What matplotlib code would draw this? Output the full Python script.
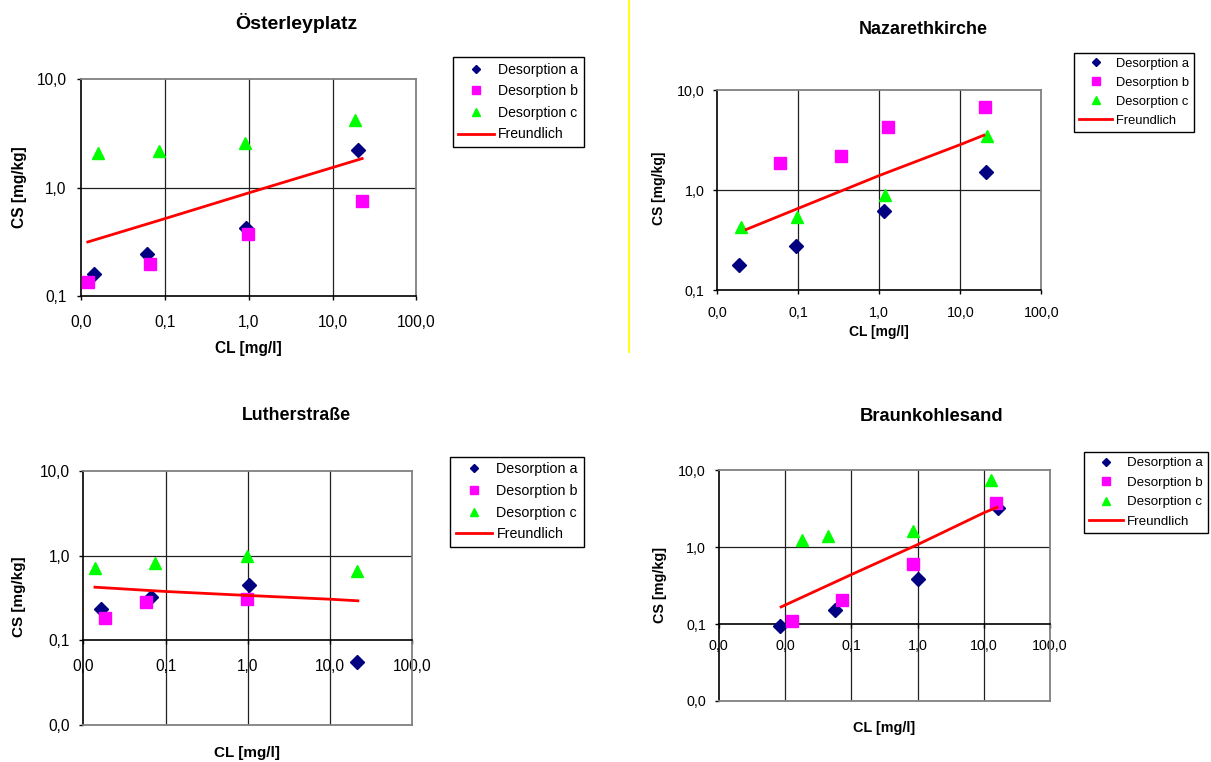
#!/usr/bin/env python3
"""
Desorption isotherms (CS vs CL, log-log) for four sites, with Freundlich fit
"""

import matplotlib.pyplot as plt
from matplotlib.lines import Line2D

plt.rcParams['font.family'] = ['Liberation Sans', 'DejaVu Sans']

# --- Österleyplatz ---
oest_a_x = [0.0143, 0.061, 0.93, 20.3]
oest_a_y = [0.161, 0.246, 0.42, 2.24]
oest_b_x = [0.012, 0.0667, 0.97, 22.2]
oest_b_y = [0.135, 0.196, 0.371, 0.748]
oest_c_x = [0.0158, 0.0855, 0.90, 18.6]
oest_c_y = [2.06, 2.18, 2.58, 4.19]
oest_fr_x = [0.012, 0.1, 1.0, 10.0, 22.5]
oest_fr_y = [0.315, 0.517, 0.893, 1.53, 1.85]

# --- Nazarethkirche ---
naz_a_x = [0.0186, 0.0955, 1.14, 21.0]
naz_a_y = [0.18, 0.275, 0.617, 1.51]
naz_b_x = [0.0597, 0.341, 1.3, 20.3]
naz_b_y = [1.89, 2.19, 4.27, 6.81]
naz_c_x = [0.0198, 0.096, 1.19, 21.4]
naz_c_y = [0.427, 0.541, 0.885, 3.47]
naz_fr_x = [0.023, 0.1, 1.0, 10.0, 19.5]
naz_fr_y = [0.404, 0.656, 1.40, 2.86, 3.55]

# --- Lutherstraße ---
luth_a_x = [0.0164, 0.0657, 1.04, 21.0]
luth_a_y = [0.236, 0.33, 0.454, 0.0563]
luth_b_x = [0.0182, 0.0569, 0.968]
luth_b_y = [0.183, 0.283, 0.313]
luth_c_x = [0.0139, 0.0741, 0.98, 21.0]
luth_c_y = [0.728, 0.819, 1.0, 0.671]
luth_fr_x = [0.0138, 0.1, 1.0, 10.0, 21.7]
luth_fr_y = [0.426, 0.379, 0.34, 0.307, 0.294]

# --- Braunkohlesand ---
braun_a_x = [0.0084, 0.0574, 1.03, 16.4]
braun_a_y = [0.095, 0.153, 0.388, 3.18]
braun_b_x = [0.0128, 0.0733, 0.865, 15.2]
braun_b_y = [0.108, 0.206, 0.61, 3.77]
braun_c_x = [0.0181, 0.0444, 0.865, 13.0]
braun_c_y = [1.22, 1.41, 1.64, 7.41]
braun_fr_x = [0.0087, 0.1, 1.0, 10.0, 15.8]
braun_fr_y = [0.167, 0.44, 1.08, 2.8, 3.3]

# axis ticks / labels
x_ticks_a = [0.01, 0.1, 1, 10, 100]
x_labels_a = ['0,0', '0,1', '1,0', '10,0', '100,0']
x_ticks_b = [0.001, 0.01, 0.1, 1, 10, 100]
x_labels_b = ['0,0', '0,0', '0,1', '1,0', '10,0', '100,0']
y_ticks_a = [0.1, 1, 10]
y_labels_a = ['0,1', '1,0', '10,0']
y_ticks_b = [0.01, 0.1, 1, 10]
y_labels_b = ['0,0', '0,1', '1,0', '10,0']

series_names = ['Desorption a', 'Desorption b', 'Desorption c', 'Freundlich']
titles = ['Österleyplatz', 'Nazarethkirche', 'Lutherstraße', 'Braunkohlesand']

NAVY = '#000080'
MAGENTA = '#FF00FF'
LIME = '#00FF00'
RED = '#FF0000'
BORDER = '#808080'
GRID = '#202020'


def draw_panel(ax, title, data, xticks, xlabels, yticks, ylabels, lay):
    """One Excel-style log-log scatter chart"""
    (ax_, ay_, bx_, by_, cx_, cy_, fx_, fy_) = data

    ax.set_xscale('log')
    ax.set_yscale('log')
    ax.set_xlim(xticks[0], xticks[-1])
    ax.set_ylim(yticks[0], yticks[-1])

    # inner gridlines
    for xv in xticks[1:-1]:
        ax.axvline(xv, color=GRID, lw=0.9, zorder=1)
    ax.axhline(1.0, color=GRID, lw=0.9, zorder=1)

    ax.plot(ax_, ay_, 'D', color=NAVY, ms=7.3, mec=NAVY, ls='none',
            label=series_names[0], clip_on=False, zorder=3)
    ax.plot(bx_, by_, 's', color=MAGENTA, ms=9.3, mec=MAGENTA, ls='none',
            label=series_names[1], clip_on=False, zorder=3)
    ax.plot(cx_, cy_, '^', color=LIME, ms=9.3, mec=LIME, ls='none',
            label=series_names[2], clip_on=False, zorder=3)
    ax.plot(fx_, fy_, '-', color=RED, lw=2.0, label=series_names[3], zorder=4)

    ax.set_xticks(xticks)
    ax.set_xticklabels(xlabels)
    ax.set_yticks(yticks)
    ax.set_yticklabels(ylabels)
    ax.minorticks_off()
    ax.tick_params(axis='both', direction='out', length=3, width=1,
                   colors='black', labelsize=lay['tick'])
    ax.tick_params(axis='x', pad=lay['xpad'])
    ax.tick_params(axis='y', pad=lay['ypad'])

    for side in ['top', 'right']:
        ax.spines[side].set_color(BORDER)
        ax.spines[side].set_linewidth(1.3)
    for side in ['left', 'bottom']:
        ax.spines[side].set_color('black')
        ax.spines[side].set_linewidth(1.2)

    # x axis crosses at 0,1 when the y range goes lower
    if yticks[0] < 0.1:
        ax.spines['bottom'].set_position(('data', 0.1))
        ax.axhline(yticks[0], color=BORDER, lw=1.3, zorder=3, clip_on=False)

    ax.set_title(title, x=lay['title'][0], y=lay['title'][1], pad=0,
                 va='center', fontsize=lay['tsize'], fontweight='bold')
    ax.set_xlabel('CL [mg/l]', fontsize=lay['lsize'], fontweight='bold', va='center')
    ax.xaxis.set_label_coords(*lay['xlab'])
    ax.set_ylabel('CS [mg/kg]', fontsize=lay['lsize'], fontweight='bold', va='center')
    ax.yaxis.set_label_coords(*lay['ylab'])

    leg = ax.legend(loc='upper left', bbox_to_anchor=lay['leg'], borderaxespad=0,
                    fontsize=lay['lgsize'], frameon=True, fancybox=False,
                    edgecolor='black', framealpha=1, markerscale=0.6,
                    handlelength=2.55, handletextpad=0.3, labelspacing=0.54,
                    borderpad=0.4)
    leg.get_frame().set_linewidth(1.0)


fig = plt.figure(figsize=(12.11, 7.62), dpi=100)

layouts = [
    dict(rect=[0.067, 0.6115, 0.2769, 0.2848], tick=11.2, xpad=11.0, ypad=7.4,
         title=(0.643, 1.258), tsize=14, xlab=(0.499, -0.244), ylab=(-0.185, 0.502),
         lsize=11.2, leg=(1.108, 1.101), lgsize=10.1),
    dict(rect=[0.592, 0.6194, 0.268, 0.2621], tick=10.3, xpad=8.2, ypad=6.0,
         title=(0.636, 1.302), tsize=12.9, xlab=(0.4995, -0.209), ylab=(-0.177, 0.511),
         lsize=10.0, leg=(1.101, 1.188), lgsize=9.3),
    dict(rect=[0.0689, 0.0486, 0.2717, 0.3329], tick=11.2, xpad=10.2, ypad=6.8,
         title=(0.648, 1.218), tsize=12.8, xlab=(0.498, -0.11), ylab=(-0.196, 0.506),
         lsize=11.0, leg=(1.114, 1.058), lgsize=10.3),
    dict(rect=[0.5936, 0.0801, 0.2736, 0.3028], tick=10.3, xpad=8.0, ypad=6.3,
         title=(0.6405, 1.231), tsize=13.2, xlab=(0.498, -0.117), ylab=(-0.179, 0.503),
         lsize=10.4, leg=(1.101, 1.081), lgsize=9.6),
]

panel_data = [
    (oest_a_x, oest_a_y, oest_b_x, oest_b_y, oest_c_x, oest_c_y, oest_fr_x, oest_fr_y),
    (naz_a_x, naz_a_y, naz_b_x, naz_b_y, naz_c_x, naz_c_y, naz_fr_x, naz_fr_y),
    (luth_a_x, luth_a_y, luth_b_x, luth_b_y, luth_c_x, luth_c_y, luth_fr_x, luth_fr_y),
    (braun_a_x, braun_a_y, braun_b_x, braun_b_y, braun_c_x, braun_c_y, braun_fr_x, braun_fr_y),
]
panel_ticks = [
    (x_ticks_a, x_labels_a, y_ticks_a, y_labels_a),
    (x_ticks_a, x_labels_a, y_ticks_a, y_labels_a),
    (x_ticks_a, x_labels_a, y_ticks_b, y_labels_b),
    (x_ticks_b, x_labels_b, y_ticks_b, y_labels_b),
]

for title, data, ticks, lay in zip(titles, panel_data, panel_ticks, layouts):
    ax = fig.add_axes(lay['rect'])
    draw_panel(ax, title, data, *ticks, lay)

# yellow separator between the upper two charts
fig.add_artist(Line2D([628.5 / 1211] * 2, [1.0, 1 - 352 / 762],
                      transform=fig.transFigure, color='#FFFF00', lw=1.3))

fig.savefig('out.png', dpi=100)
